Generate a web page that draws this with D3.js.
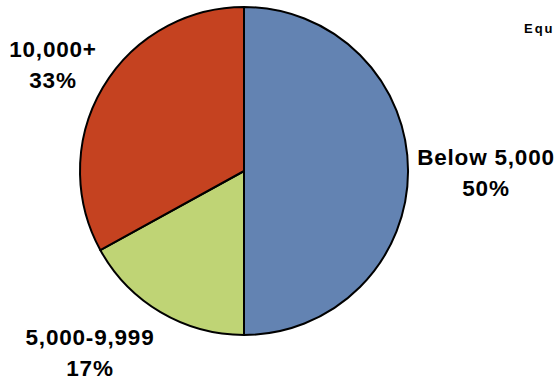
<!DOCTYPE html>
<html>
<head>
<meta charset="utf-8">
<script src="https://cdn.jsdelivr.net/npm/d3@7"></script>
<style>
  body { margin: 0; background: #fff; }
  svg text { font-family: "Liberation Sans", Arial, sans-serif; font-weight: bold; fill: #000; }
</style>
</head>
<body>
<div id="chart"></div>
<script>
// data
const categories = ["Below 5,000", "5,000-9,999", "10,000+"];
const shares = [50, 17, 33];
const colors = ["#6383b2", "#bfd475", "#c54220"];
const pctLabels = ["50%", "17%", "33%"];

const width = 556;
const height = 383;
const cx = 244;
const cy = 171;
const radius = 164;

// label anchor points (baseline of the first line)
const labelPos = [[486, 165], [90, 345], [53, 57]];

const $svg = d3.select('#chart').append('svg')
  .attr('width', width)
  .attr('height', height);

const pie = d3.pie().sort(null).value(d => d);
const arc = d3.arc().innerRadius(0).outerRadius(radius);

const $vis = $svg.append('g').attr('transform', `translate(${cx}, ${cy})`);

$vis.selectAll('path')
  .data(pie(shares))
  .join('path')
  .attr('d', arc)
  .attr('fill', (d, i) => colors[i])
  .attr('stroke', '#000')
  .attr('stroke-width', 2)
  .attr('stroke-linejoin', 'round');

const $labels = $svg.append('g').selectAll('text')
  .data(categories)
  .join('text')
  .attr('text-anchor', 'middle')
  .attr('font-size', 22.5)
  .attr('letter-spacing', 0.8)
  .attr('x', (d, i) => labelPos[i][0])
  .attr('y', (d, i) => labelPos[i][1]);

$labels.append('tspan')
  .attr('x', (d, i) => labelPos[i][0])
  .text(d => d);
$labels.append('tspan')
  .attr('x', (d, i) => labelPos[i][0])
  .attr('dy', 31)
  .text((d, i) => pctLabels[i]);

// title, cut off at the right edge
$svg.append('text')
  .attr('x', 524)
  .attr('y', 33)
  .attr('font-size', 13)
  .attr('letter-spacing', 2)
  .text('Equ');
</script>
</body>
</html>
